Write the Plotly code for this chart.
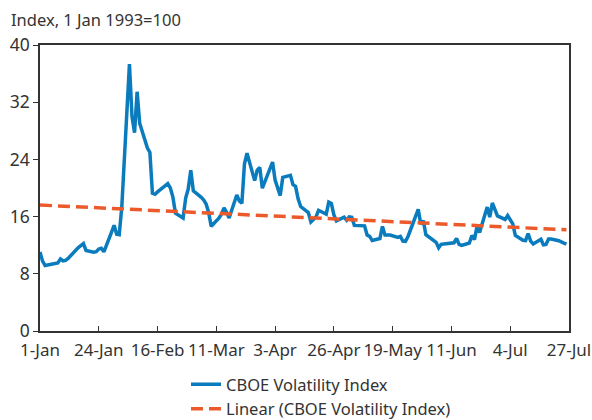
import numpy as np
import pandas as pd
import plotly.graph_objects as go

dates = ["2018-01-01","2018-01-02","2018-01-03","2018-01-04","2018-01-05","2018-01-08","2018-01-09","2018-01-10","2018-01-11","2018-01-12",
         "2018-01-16","2018-01-17","2018-01-18","2018-01-19","2018-01-22","2018-01-23","2018-01-24","2018-01-25","2018-01-26","2018-01-29",
         "2018-01-30","2018-01-31","2018-02-01","2018-02-02","2018-02-05","2018-02-06","2018-02-07","2018-02-08","2018-02-09","2018-02-12",
         "2018-02-13","2018-02-14","2018-02-15","2018-02-16","2018-02-20","2018-02-21","2018-02-22","2018-02-23","2018-02-26","2018-02-27",
         "2018-02-28","2018-03-01","2018-03-02","2018-03-05","2018-03-06","2018-03-07","2018-03-08","2018-03-09","2018-03-12","2018-03-13",
         "2018-03-14","2018-03-15","2018-03-16","2018-03-19","2018-03-20","2018-03-21","2018-03-22","2018-03-23","2018-03-26","2018-03-27",
         "2018-03-28","2018-03-29","2018-04-02","2018-04-03","2018-04-04","2018-04-05","2018-04-06","2018-04-09","2018-04-10","2018-04-11",
         "2018-04-12","2018-04-13","2018-04-16","2018-04-17","2018-04-18","2018-04-19","2018-04-20","2018-04-23","2018-04-24","2018-04-25",
         "2018-04-26","2018-04-27","2018-04-30","2018-05-01","2018-05-02","2018-05-03","2018-05-04","2018-05-07","2018-05-08","2018-05-09",
         "2018-05-10","2018-05-11","2018-05-14","2018-05-15","2018-05-16","2018-05-17","2018-05-18","2018-05-21","2018-05-22","2018-05-23",
         "2018-05-24","2018-05-25","2018-05-29","2018-05-30","2018-05-31","2018-06-01","2018-06-04","2018-06-05","2018-06-06","2018-06-07",
         "2018-06-08","2018-06-11","2018-06-12","2018-06-13","2018-06-14","2018-06-15","2018-06-18","2018-06-19","2018-06-20","2018-06-21",
         "2018-06-22","2018-06-25","2018-06-26","2018-06-27","2018-06-28","2018-06-29","2018-07-02","2018-07-03","2018-07-05","2018-07-06",
         "2018-07-09","2018-07-10","2018-07-11","2018-07-12","2018-07-13","2018-07-16","2018-07-17","2018-07-18","2018-07-19","2018-07-20",
         "2018-07-23","2018-07-24","2018-07-25","2018-07-26"]

vix = [11.04, 9.77, 9.15, 9.22, 9.22, 9.52, 10.08, 9.82, 9.88, 10.16,
       11.66, 11.91, 12.22, 11.27, 11.03, 11.10, 11.47, 11.58, 11.08, 13.84,
       14.79, 13.54, 13.47, 17.31, 37.32, 29.98, 27.73, 33.46, 29.06, 25.61,
       24.97, 19.26, 19.13, 19.46, 20.60, 20.02, 18.72, 16.49, 15.80, 18.59,
       19.85, 22.47, 19.59, 18.73, 18.36, 17.76, 16.54, 14.64, 15.78, 16.35,
       17.23, 16.59, 15.80, 19.02, 18.20, 17.86, 23.34, 24.87, 21.03, 22.50,
       22.87, 19.97, 23.62, 21.10, 20.06, 18.94, 21.49, 21.77, 20.47, 20.24,
       18.49, 17.41, 16.56, 15.25, 15.60, 15.96, 16.88, 16.34, 18.02, 17.84,
       16.24, 15.41, 15.93, 15.49, 15.97, 15.90, 14.77, 14.75, 14.71, 13.42,
       13.23, 12.65, 12.93, 14.63, 13.42, 13.43, 13.42, 13.08, 13.22, 12.58,
       12.53, 13.22, 17.02, 14.94, 15.43, 13.46, 12.74, 12.40, 11.64, 12.13,
       12.18, 12.35, 12.34, 12.94, 12.12, 11.98, 12.31, 13.35, 12.79, 14.64,
       13.77, 17.33, 15.92, 17.91, 16.85, 16.09, 15.60, 16.14, 14.97, 13.37,
       12.69, 12.64, 13.63, 12.58, 12.18, 12.83, 12.06, 12.10, 12.87, 12.86,
       12.62, 12.41, 12.29, 12.14]

tick_dates = ["2018-01-01","2018-01-24","2018-02-16","2018-03-11","2018-04-03",
              "2018-04-26","2018-05-19","2018-06-11","2018-07-04","2018-07-27"]
tick_labels = ["1-Jan","24-Jan","16-Feb","11-Mar","3-Apr","26-Apr","19-May","11-Jun","4-Jul","27-Jul"]
y_ticks = [0, 8, 16, 24, 32, 40]

# Linear trendline (least squares on date serial, as a spreadsheet would)
d = pd.to_datetime(dates)
xnum = (d - d[0]).days.values.astype(float)
slope, intercept = np.polyfit(xnum, np.array(vix), 1)
trend_x = [d[0], d[-1]]
trend_y = [intercept, intercept + slope * xnum[-1]]

BLUE = "#0A7BBD"
ORANGE = "#EC5A2C"
TXT = "#333333"
FONT = "Noto Sans"

fig = go.Figure()
fig.add_trace(go.Scatter(x=d, y=vix, mode="lines", name="CBOE Volatility Index",
                         line=dict(color=BLUE, width=3.5)))
fig.add_trace(go.Scatter(x=trend_x, y=trend_y, mode="lines", name="Linear (CBOE Volatility Index)",
                         line=dict(color=ORANGE, width=3.5, dash="12px,6px")))

fig.update_layout(
    width=592, height=420,
    margin=dict(l=40, r=23, t=45, b=89, autoexpand=False),
    paper_bgcolor="white", plot_bgcolor="white",
    font=dict(family=FONT, size=16.5, color=TXT),
    title=dict(text="Index, 1 Jan 1993=100", x=11/592, xanchor="left", xref="container",
               y=1 - 20/420, yanchor="middle", yref="container",
               font=dict(family=FONT, size=16.5, color=TXT)),
    legend=dict(orientation="v", x=(186-40)/529, xanchor="left", xref="paper",
                y=1 - 367/420, yanchor="top", yref="container",
                font=dict(family=FONT, size=16.5, color=TXT), tracegroupgap=0,
                bgcolor="rgba(0,0,0,0)"),
    showlegend=True,
)
fig.update_xaxes(type="date", range=["2018-01-01", "2018-07-27"],
                 tickvals=tick_dates, ticktext=tick_labels, tickangle=0,
                 ticks="inside", ticklen=5, tickcolor=TXT, tickwidth=1,
                 ticklabelstandoff=3,
                 showline=True, linecolor=TXT, linewidth=1.5, mirror=True,
                 showgrid=False, zeroline=False, automargin=False,
                 tickfont=dict(size=17, color=TXT))
fig.update_yaxes(range=[0, 40], tickvals=y_ticks,
                 ticks="outside", ticklen=5, tickcolor=TXT, tickwidth=1,
                 showline=True, linecolor=TXT, linewidth=1.5, mirror=True,
                 showgrid=False, zeroline=False, automargin=False,
                 tickfont=dict(size=17.5, color=TXT))

fig.write_html("out.html", config={"displayModeBar": False},
               post_script="document.body.style.margin='0';document.body.style.padding='0';")
